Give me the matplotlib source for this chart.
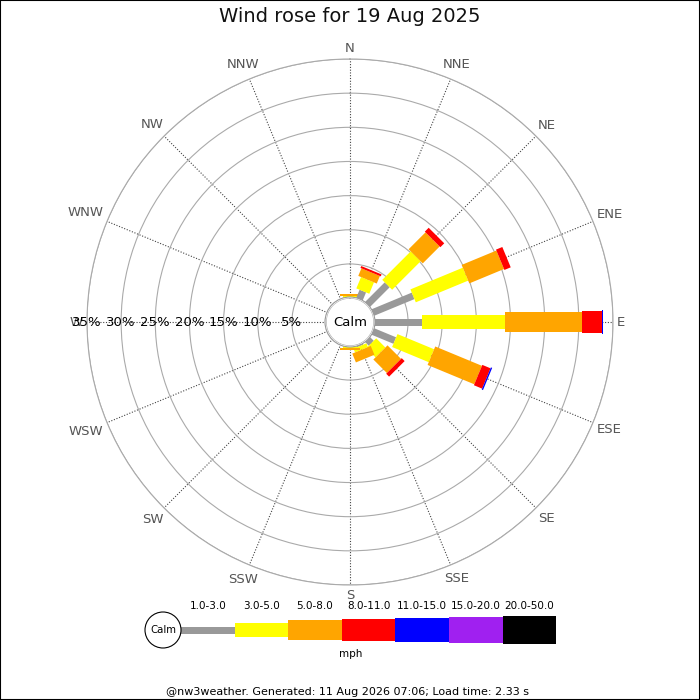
#!/usr/bin/env python3
# -*- encoding: utf-8 -*-

import numpy as np
from matplotlib import pyplot as plt
from matplotlib.patches import Circle, Rectangle

directions = ["N", "NNE", "NE", "ENE", "E", "ESE", "SE", "SSE",
              "S", "SSW", "SW", "WSW", "W", "WNW", "NW", "NNW"]
speed_bins = ["1.0-3.0", "3.0-5.0", "5.0-8.0", "8.0-11.0",
              "11.0-15.0", "15.0-20.0", "20.0-50.0"]
bin_colors = ["#999999", "#ffff00", "#ffa500", "#ff0000",
              "#0000ff", "#a020f0", "#000000"]

# percentage of time per direction, one list per speed bin
pct_1_3 = [0.0, 1.4, 4.2, 6.5, 7.0, 3.6, 0.9, 0.3, 0.0, 0, 0, 0, 0, 0, 0, 0]
pct_3_5 = [0.25, 1.8, 5.9, 8.3, 12.2, 5.8, 1.9, 0.6, 0.25, 0, 0, 0, 0, 0, 0, 0]
pct_5_8 = [0.4, 1.2, 3.5, 5.5, 11.2, 7.4, 2.8, 1.4, 0.3, 0, 0, 0, 0, 0, 0, 0]
pct_8_11 = [0.0, 0.3, 0.8, 1.0, 3.0, 1.3, 0.6, 0.0, 0.0, 0, 0, 0, 0, 0, 0, 0]
pct_11_15 = [0, 0, 0, 0, 0.2, 0.2, 0, 0, 0, 0, 0, 0, 0, 0, 0, 0]
pct_15_20 = [0] * 16
pct_20_50 = [0] * 16
pct_table = [pct_1_3, pct_3_5, pct_5_8, pct_8_11, pct_11_15, pct_15_20, pct_20_50]

ring_pcts = [5, 10, 15, 20, 25, 30, 35]
bar_widths_px = [7, 14, 20, 22, 24, 26, 28]

title = "Wind rose for 19 Aug 2025"
footer = "@nw3weather. Generated: 11 Aug 2026 07:06; Load time: 2.33 s"

W, H = 700, 700
PT = 0.72  # points per pixel at dpi 100


def main():
    fig = plt.figure(figsize=(7, 7), dpi=100)
    fig.patch.set_facecolor("white")

    cx, cy, rout = 350, 322, 263
    ax = fig.add_axes([(cx - rout) / W, (H - cy - rout) / H, 2 * rout / W, 2 * rout / H],
                      projection="polar")
    ax.set_theta_zero_location("N")
    ax.set_theta_direction(-1)
    ax.set_rlim(0, 35)
    ax.set_rorigin(-3.5)

    thetas = np.deg2rad(np.arange(16) * 22.5)
    ax.set_xticks(thetas)
    ax.set_xticklabels([])
    ax.set_yticks(ring_pcts)
    ax.set_yticklabels([])
    ax.xaxis.grid(True, color="#444444", linestyle=(0, (1, 1.5)), linewidth=0.8)
    ax.yaxis.grid(True, color="#aaaaaa", linestyle="-", linewidth=0.8)
    for name, sp in ax.spines.items():
        sp.set_color("#aaaaaa")
        sp.set_linewidth(0.8)

    # stacked bars
    for d, th in enumerate(thetas):
        start = 0.0
        for b, series in enumerate(pct_table):
            val = series[d]
            if val <= 0:
                continue
            ax.plot([th, th], [start, start + val], color=bin_colors[b],
                    linewidth=bar_widths_px[b] * PT, solid_capstyle="butt", zorder=3)
            start += val

    # compass labels: text box edge sits just outside the outer ring
    renderer = fig.canvas.get_renderer()
    for lab, th in zip(directions, thetas):
        t = ax.annotate(lab, xy=(th, ring_pcts[-1]), xytext=(0, 0),
                        textcoords="offset pixels", ha="center", va="center",
                        fontsize=9.5, color="#555555", annotation_clip=False)
        bb = t.get_window_extent(renderer)
        off = 4 + abs(np.sin(th)) * bb.width / 2 + abs(np.cos(th)) * bb.height / 2
        t.xyann = (off * np.sin(th), off * np.cos(th))

    # ring labels along W
    for p in ring_pcts:
        ax.text(np.deg2rad(270), p, f"{p}%", ha="center", va="center",
                fontsize=9.5, color="black", zorder=5)

    calm = Circle((0.5, 0.5), 25 / (2 * rout), transform=ax.transAxes,
                  facecolor="white", edgecolor="#999999", linewidth=0.8, zorder=6)
    ax.add_artist(calm)
    ax.text(0.5, 0.5, "Calm", transform=ax.transAxes, ha="center", va="center",
            fontsize=9.5, zorder=7)

    # legend strip, axes in pixel units
    lx0, lx1, ly0, ly1 = 140, 570, 595, 665
    lg = fig.add_axes([lx0 / W, (H - ly1) / H, (lx1 - lx0) / W, (ly1 - ly0) / H])
    lg.set_xlim(lx0, lx1)
    lg.set_ylim(ly1, ly0)
    lg.axis("off")
    seg0, seg_w, ymid = 181, 53.6, 630
    for i, (lab, col, h) in enumerate(zip(speed_bins, bin_colors, bar_widths_px)):
        lg.bar(seg0 + i * seg_w, h, width=seg_w, bottom=ymid - h / 2,
               align="edge", color=col, linewidth=0)
        lg.text(seg0 + (i + 0.5) * seg_w, 606, lab, ha="center", va="center", fontsize=7.5)
    lg.add_patch(Circle((163, ymid), 18, facecolor="white", edgecolor="black",
                        linewidth=0.8, zorder=4))
    lg.text(163, ymid, "Calm", ha="center", va="center", fontsize=7.3, zorder=5)
    lg.text(351, 654, "mph", ha="center", va="center", fontsize=7.5)

    fig.text(0.5, 1 - 17 / H, title, ha="center", va="center", fontsize=14, color="#111111")
    fig.text(348 / W, 1 - 692 / H, footer, ha="center", va="center", fontsize=8)

    fig.add_artist(Rectangle((0, 0), 1, 1, transform=fig.transFigure, fill=False,
                             edgecolor="black", linewidth=1.5))

    fig.savefig("out.png", dpi=100)


if __name__ == "__main__":
    main()
